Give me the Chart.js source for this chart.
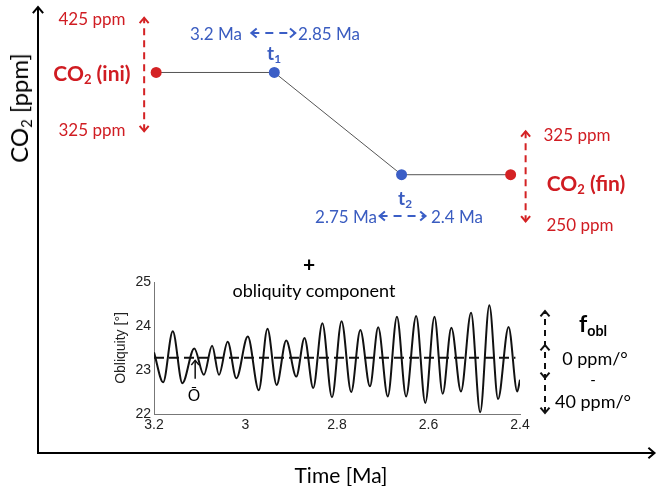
<!DOCTYPE html>
<html>
<head>
<meta charset="utf-8">
<script src="https://cdn.jsdelivr.net/npm/chart.js@4.4.1/dist/chart.umd.min.js"></script>
<style>
  body { margin: 0; background: #fff; }
  #wrap { position: relative; width: 657px; height: 486px; overflow: hidden; }
  #wrap canvas { position: absolute; }
  .lbl { position: absolute; transform: translate(-50%, -50%); white-space: nowrap;
         font-family: Lato, "Open Sans", sans-serif; line-height: 1; }
  .red { color: #d01c22; }
  .blue { color: #3a5cc0; }
  .b { font-weight: bold; }
  sub { font-size: 62%; vertical-align: -0.3em; line-height: 0; }
</style>
</head>
<body>
<div id="wrap">
  <canvas id="main" width="657" height="486" style="left:0;top:0"></canvas>
  <canvas id="inset" width="445" height="170" style="left:94px;top:270px"></canvas>

  <div class="lbl" style="left:19px;top:108px;font-size:24px;transform:translate(-50%,-50%) rotate(-90deg)">CO<sub>2</sub> [ppm]</div>
  <div class="lbl" style="left:341px;top:474px;font-size:21px">Time [Ma]</div>

  <div class="lbl red" style="left:92px;top:18px;font-size:17px">425 ppm</div>
  <div class="lbl red b" style="left:92px;top:72px;font-size:21px">CO<sub>2</sub> (ini)</div>
  <div class="lbl red" style="left:92px;top:129px;font-size:17px">325 ppm</div>

  <div class="lbl blue" style="left:216px;top:33px;font-size:17px">3.2 Ma</div>
  <div class="lbl blue" style="left:329px;top:33px;font-size:17px">2.85 Ma</div>
  <div class="lbl blue b" style="left:274px;top:52px;font-size:19px">t<sub>1</sub></div>
  <div class="lbl blue b" style="left:405px;top:197px;font-size:19px">t<sub>2</sub></div>
  <div class="lbl blue" style="left:346px;top:216px;font-size:17px">2.75 Ma</div>
  <div class="lbl blue" style="left:457px;top:216px;font-size:17px">2.4 Ma</div>

  <div class="lbl red" style="left:577px;top:134px;font-size:17px">325 ppm</div>
  <div class="lbl red b" style="left:586px;top:182px;font-size:21px">CO<sub>2</sub> (fin)</div>
  <div class="lbl red" style="left:580px;top:224px;font-size:17px">250 ppm</div>

  <div class="lbl b" style="left:309px;top:263px;font-size:21px">+</div>
  <div class="lbl" style="left:314px;top:290px;font-size:18px">obliquity component</div>
  <div class="lbl" style="left:194px;top:396px;font-size:16px;font-family:'Liberation Sans',Arial,sans-serif">Ō</div>

  <div class="lbl b" style="left:593px;top:323px;font-size:23px">f<sub>obl</sub></div>
  <div class="lbl" style="left:595px;top:358px;font-size:18px">0 ppm/°</div>
  <div class="lbl" style="left:593px;top:379px;font-size:15px">-</div>
  <div class="lbl" style="left:593px;top:401px;font-size:18px">40 ppm/°</div>
</div>

<script>
// CO2 scenario (schematic): start, t1, t2, end
const stepTimes = [3.2, 2.94, 2.66, 2.42];      // Ma
const stepCO2 = [375, 375, 285, 285];           // ppm
const stepColors = ['#d42224', '#3b5ec6', '#3b5ec6', '#d42224'];
const iniRange = [425, 325];
const finRange = [325, 250];

// obliquity (extrema only)
const oblTimes = [3.2, 3.18, 3.159, 3.138, 3.112, 3.091, 3.073, 3.058, 3.039, 3.02,
  2.995, 2.971, 2.952, 2.932, 2.911, 2.889, 2.871, 2.852, 2.832, 2.811,
  2.79, 2.769, 2.749, 2.728, 2.71, 2.689, 2.669, 2.649, 2.627, 2.607,
  2.587, 2.569, 2.55, 2.529, 2.507, 2.487, 2.467, 2.448, 2.425, 2.406, 2.4];
const oblValues = [23.4, 22.72, 23.88, 22.70, 23.49, 22.89, 23.55, 22.89, 23.64, 22.81,
  23.76, 22.54, 23.94, 22.66, 23.67, 22.85, 23.73, 22.59, 24.06, 22.38,
  24.11, 22.50, 23.91, 22.63, 23.97, 22.40, 24.21, 22.40, 24.23, 22.25,
  24.21, 22.46, 23.96, 22.51, 24.30, 22.04, 24.47, 22.34, 23.98, 22.51, 22.78];
const oblMean = 23.28;
const oblXTicks = [3.2, 3, 2.8, 2.6, 2.4];
const oblYTicks = [22, 23, 24, 25];

function arrowHead(ctx, x, y, ang, size) {
  ctx.save();
  ctx.setLineDash([]);
  ctx.beginPath();
  ctx.moveTo(x - size * Math.cos(ang - 0.7), y - size * Math.sin(ang - 0.7));
  ctx.lineTo(x, y);
  ctx.lineTo(x - size * Math.cos(ang + 0.7), y - size * Math.sin(ang + 0.7));
  ctx.stroke();
  ctx.restore();
}

function dashedArrow(ctx, x1, y1, x2, y2, color, dash, both) {
  ctx.save();
  ctx.strokeStyle = color;
  ctx.lineWidth = 2;
  ctx.setLineDash(dash);
  ctx.beginPath();
  ctx.moveTo(x1, y1);
  ctx.lineTo(x2, y2);
  ctx.stroke();
  const ang = Math.atan2(y2 - y1, x2 - x1);
  arrowHead(ctx, x2, y2, ang, 7);
  if (both) arrowHead(ctx, x1, y1, ang + Math.PI, 7);
  ctx.restore();
}

const mainDecor = {
  id: 'mainDecor',
  afterDraw(chart) {
    const ctx = chart.ctx;
    const xs = chart.scales.x, ys = chart.scales.y;
    const a = chart.chartArea;
    // axis arrow heads
    ctx.save();
    ctx.strokeStyle = '#000';
    ctx.lineWidth = 2;
    ctx.beginPath();
    ctx.moveTo(a.left, a.top);
    ctx.lineTo(a.left, a.top - 3);
    ctx.moveTo(a.right, a.bottom);
    ctx.lineTo(a.right + 3, a.bottom);
    ctx.stroke();
    arrowHead(ctx, a.left, a.top - 3, -Math.PI / 2, 8);
    arrowHead(ctx, a.right + 3, a.bottom, 0, 8);
    ctx.restore();

    const red = '#d42224', blue = '#3b5ec6';
    // CO2 ranges
    const xi = xs.getPixelForValue(stepTimes[0]) - 12;
    dashedArrow(ctx, xi, ys.getPixelForValue(iniRange[1]) + 2, xi, ys.getPixelForValue(iniRange[0]) + 2, red, [7, 5], true);
    const xf = xs.getPixelForValue(stepTimes[3]) + 15;
    dashedArrow(ctx, xf, ys.getPixelForValue(finRange[0]) + 2, xf, ys.getPixelForValue(finRange[1]) + 7, red, [7, 5], true);
    // timing ranges
    const x1 = xs.getPixelForValue(stepTimes[1]);
    dashedArrow(ctx, x1 - 23, 33, x1 + 21, 33, blue, [8, 6], true);
    const x2 = xs.getPixelForValue(stepTimes[2]);
    dashedArrow(ctx, x2 - 22, 216, x2 + 24, 216, blue, [8, 6], true);
    // f_obl range
    dashedArrow(ctx, 545, 413, 545, 311, '#111', [6, 5], true);
    ctx.save();
    ctx.strokeStyle = '#111';
    ctx.lineWidth = 2;
    arrowHead(ctx, 545, 345, -Math.PI / 2, 7);
    arrowHead(ctx, 545, 378, Math.PI / 2, 7);
    ctx.restore();
  }
};

new Chart(document.getElementById('main'), {
  type: 'line',
  data: {
    datasets: [{
      data: stepTimes.map((t, i) => ({ x: t, y: stepCO2[i] })),
      borderColor: '#555',
      borderWidth: 1,
      tension: 0,
      pointRadius: 5.5,
      pointBorderWidth: 0,
      pointBackgroundColor: stepColors
    }]
  },
  options: {
    responsive: false,
    animation: false,
    events: [],
    layout: { padding: { left: 38, right: 5, top: 10, bottom: 33 } },
    plugins: { legend: { display: false }, tooltip: { enabled: false } },
    scales: {
      x: {
        type: 'linear', min: 2.11, max: 3.46, reverse: true,
        ticks: { display: false },
        grid: { display: false, drawTicks: false },
        border: { color: '#000', width: 2 }
      },
      y: {
        min: 40, max: 430,
        ticks: { display: false },
        grid: { display: false, drawTicks: false },
        border: { color: '#000', width: 2 }
      }
    }
  },
  plugins: [mainDecor]
});

const insetDecor = {
  id: 'insetDecor',
  afterDraw(chart) {
    const ctx = chart.ctx;
    const xs = chart.scales.x, ys = chart.scales.y;
    const x = xs.getPixelForValue(3.11);
    ctx.save();
    ctx.strokeStyle = '#111';
    ctx.lineWidth = 1.5;
    ctx.beginPath();
    ctx.moveTo(x, ys.getPixelForValue(22.8));
    ctx.lineTo(x, ys.getPixelForValue(23.22));
    ctx.stroke();
    arrowHead(ctx, x, ys.getPixelForValue(23.22), -Math.PI / 2, 6);
    ctx.restore();
  }
};

const fmt = v => String(Number(v.toFixed(1)));

new Chart(document.getElementById('inset'), {
  type: 'line',
  data: {
    datasets: [{
      data: oblTimes.map((t, i) => ({ x: t, y: oblValues[i] })),
      borderColor: '#111',
      borderWidth: 2,
      pointRadius: 0,
      cubicInterpolationMode: 'monotone'
    }, {
      data: [{ x: oblXTicks[0], y: oblMean }, { x: 2.41, y: oblMean }],
      borderColor: '#111',
      borderWidth: 2,
      borderDash: [10, 5],
      pointRadius: 0
    }]
  },
  options: {
    responsive: false,
    animation: false,
    events: [],
    layout: { padding: { left: 19, right: 19, top: 12, bottom: 0 } },
    plugins: { legend: { display: false }, tooltip: { enabled: false } },
    scales: {
      x: {
        type: 'linear', min: 2.4, max: 3.2, reverse: true,
        afterBuildTicks: s => { s.ticks = oblXTicks.map(v => ({ value: v })); },
        ticks: { callback: fmt, color: '#222', padding: 3, maxRotation: 0,
                 font: { family: 'Liberation Sans', size: 14 } },
        grid: { display: false, drawTicks: false },
        border: { color: '#777', width: 1 },
        afterFit: s => { s.height = 26; }
      },
      y: {
        min: 22, max: 25,
        afterBuildTicks: s => { s.ticks = oblYTicks.map(v => ({ value: v })); },
        ticks: { color: '#222', padding: 3,
                 font: { family: 'Liberation Sans', size: 14 } },
        title: { display: true, text: 'Obliquity [°]', color: '#222', padding: 0,
                 font: { family: 'Liberation Sans', size: 14 } },
        grid: { display: false, drawTicks: false },
        border: { color: '#777', width: 1 },
        afterFit: s => { s.width = 41; }
      }
    }
  },
  plugins: [insetDecor]
});
</script>
</body>
</html>
